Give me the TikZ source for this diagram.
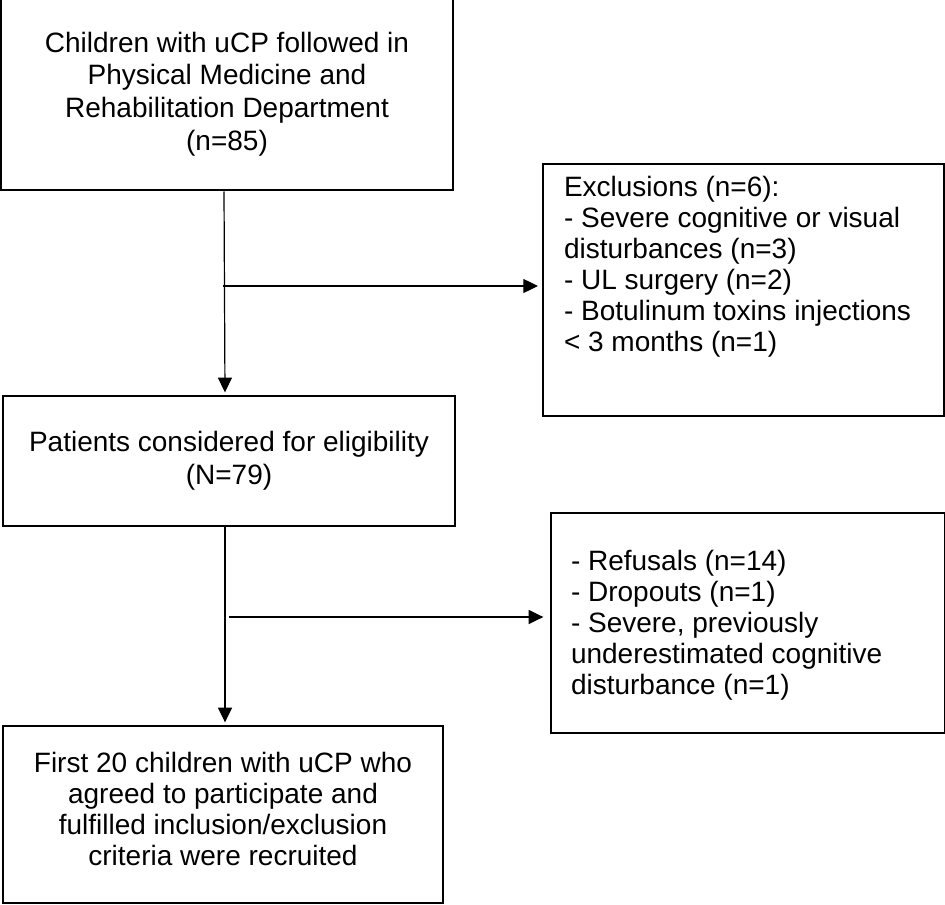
\documentclass[tikz,border=0pt]{standalone}
\usepackage{fontspec}
\setmainfont{Liberation Sans}
\usetikzlibrary{arrows.meta}
\begin{document}
\begin{tikzpicture}[x=0.75pt,y=-0.75pt,
  box/.style={draw=black, line width=1.5pt, rectangle, inner sep=0pt,
    font=\fontsize{21pt}{23.25pt}\selectfont},
  cbox/.style={box, align=center},
  arr/.style={draw=black, line width=0.9pt, -{Triangle[length=11pt,width=10.5pt]}}]
\clip (0,0) rectangle (945,905);
\useasboundingbox (0,0) rectangle (945,905);
% box 1 (top edge outside the picture)
\node[cbox, minimum width=339pt, minimum height=144.75pt,
  font=\fontsize{21pt}{24.5pt}\selectfont] (b1) at (227,94)
  {Children with uCP followed in\\Physical Medicine and\\Rehabilitation Department\\(n=85)};
% exclusions box
\node[box, anchor=north west] (ex1) at (542,163)
  {\begin{minipage}[t][189pt][t]{300.75pt}\vspace*{9.5pt}\raggedright\leftskip=15.75pt
   Exclusions (n=6):\\
   - Severe cognitive or visual\\
   disturbances (n=3)\\
   - UL surgery (n=2)\\
   - Botulinum toxins injections\\
   {<} 3 months (n=1)\end{minipage}};
% box 3
\node[cbox, minimum width=339pt, minimum height=97.5pt,
  font=\fontsize{21pt}{24.5pt}\selectfont] (b3) at (229,461)
  {Patients considered for eligibility\\(N=79)};
% second exclusions box
\node[box, anchor=north west] (ex2) at (550,512)
  {\begin{minipage}[t][165pt][t]{295.5pt}\vspace*{27.75pt}\raggedright\leftskip=15pt
   - Refusals (n=14)\\
   - Dropouts (n=1)\\
   - Severe, previously\\
   underestimated cognitive\\
   disturbance (n=1)\end{minipage}};
% box 5
\node[cbox, minimum width=330pt, minimum height=132.75pt] (b5) at (223,814.5)
  {\begin{minipage}[c][132.75pt][c]{330pt}\centering\vspace*{-8pt}
   First 20 children with uCP who\\agreed to participate and\\fulfilled inclusion/exclusion\\criteria were recruited\end{minipage}};
% connectors
\coordinate (j1) at (223,286);
\coordinate (j2) at (229,617);
\draw[arr, shorten >=2pt] ([xshift=-2.25pt]b1.south) -- ([xshift=-3pt]b3.north);
\draw[arr, shorten >=3pt] (j1) -- (j1 -| ex1.west);
\draw[arr, shorten >=2pt] ([xshift=-3pt]b3.south) -- ([xshift=1.5pt]b5.north);
\draw[arr, shorten >=5pt] (j2) -- (j2 -| ex2.west);
\end{tikzpicture}
\end{document}
